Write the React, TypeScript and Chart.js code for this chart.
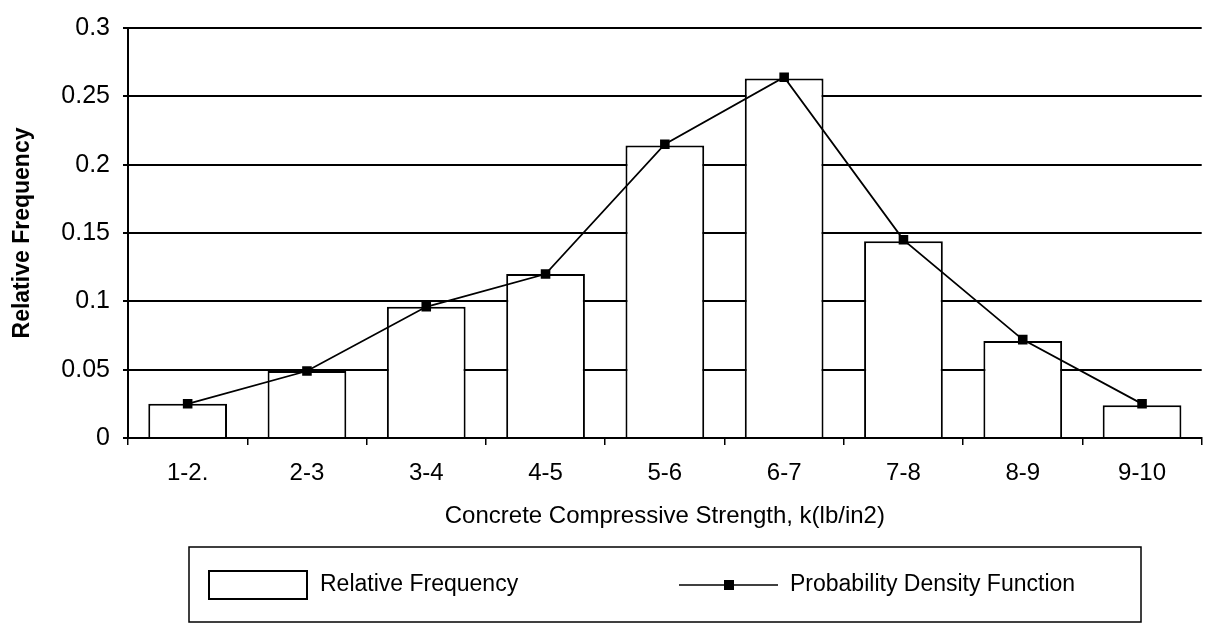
import React, { useEffect, useRef } from "react";
import { Chart, registerables } from "chart.js";

Chart.register(...registerables);

const categories = ["1-2.", "2-3", "3-4", "4-5", "5-6", "6-7", "7-8", "8-9", "9-10"];
const relativeFrequency = [0.025, 0.049, 0.096, 0.12, 0.214, 0.263, 0.144, 0.071, 0.024];
const probabilityDensity = [0.025, 0.049, 0.096, 0.12, 0.215, 0.264, 0.145, 0.072, 0.025];
const yTickLabels = ["0", "0.05", "0.1", "0.15", "0.2", "0.25", "0.3"];

const FONT = "'Liberation Sans', Arial, sans-serif";

const legendBoxPlugin = {
  id: "legendBox",
  afterDraw(chart: any) {
    const ctx = chart.ctx;
    const ds = chart.data.datasets;
    const midY = 585;
    ctx.save();
    ctx.strokeStyle = "#000";
    ctx.lineWidth = 1.5;
    ctx.strokeRect(189, 547, 952, 75);
    // bar swatch
    ctx.fillStyle = ds[0].backgroundColor;
    ctx.fillRect(209, midY - 14, 98, 28);
    ctx.lineWidth = 2;
    ctx.strokeStyle = ds[0].borderColor;
    ctx.strokeRect(209, midY - 14, 98, 28);
    ctx.fillStyle = "#000";
    ctx.font = `23px ${FONT}`;
    ctx.textBaseline = "middle";
    ctx.textAlign = "left";
    ctx.fillText(ds[0].label, 320, midY);
    // line swatch
    ctx.strokeStyle = ds[1].borderColor;
    ctx.lineWidth = 1.6;
    ctx.beginPath();
    ctx.moveTo(679, midY);
    ctx.lineTo(778, midY);
    ctx.stroke();
    ctx.fillStyle = ds[1].pointBackgroundColor;
    ctx.fillRect(724, midY - 5, 10, 10);
    ctx.fillStyle = "#000";
    ctx.fillText(ds[1].label, 790, midY);
    ctx.restore();
  },
};

export default function App() {
  const ref = useRef<HTMLCanvasElement>(null);
  useEffect(() => {
    document.body.style.margin = "0";
    const canvas = ref.current!;
    const chart = new Chart(canvas, {
      type: "bar",
      data: {
        labels: categories,
        datasets: [
          {
            type: "bar",
            label: "Relative Frequency",
            data: relativeFrequency,
            backgroundColor: "#ffffff",
            borderColor: "#000000",
            borderWidth: 2,
            barPercentage: 0.66,
            categoryPercentage: 1,
            order: 2,
          } as any,
          {
            type: "line",
            label: "Probability Density Function",
            data: probabilityDensity,
            borderColor: "#000000",
            borderWidth: 1.8,
            pointStyle: "rect",
            pointRadius: 5.5,
            pointBackgroundColor: "#000000",
            pointBorderColor: "#000000",
            tension: 0,
            order: 1,
          } as any,
        ],
      },
      options: {
        responsive: false,
        animation: false,
        maintainAspectRatio: false,
        layout: { padding: { left: 0, right: 5, top: 26, bottom: 0 } },
        plugins: {
          legend: { display: false },
          tooltip: { enabled: false },
        },
        scales: {
          x: {
            offset: true,
            afterFit: (s: any) => {
              s.height = 196;
            },
            grid: {
              offset: true,
              drawOnChartArea: false,
              drawTicks: true,
              tickLength: 7,
              color: "#000",
              lineWidth: 1.5,
            },
            border: { display: true, color: "#000", width: 2 },
            ticks: {
              color: "#000",
              padding: 14,
              font: { family: FONT, size: 24 },
              maxRotation: 0,
            },
            title: {
              display: true,
              text: "Concrete Compressive Strength, k(lb/in2)",
              color: "#000",
              font: { family: FONT, size: 24 },
              padding: { top: 0, bottom: 103 },
            },
          },
          y: {
            min: 0,
            max: 0.3,
            afterFit: (s: any) => {
              s.width = 128;
            },
            grid: {
              color: "#000",
              lineWidth: 2,
              drawTicks: true,
              tickLength: 5,
            },
            border: { display: true, color: "#000", width: 2 },
            ticks: {
              stepSize: 0.05,
              color: "#000",
              padding: 13,
              font: { family: FONT, size: 25 },
              callback: (_v: any, i: number) => yTickLabels[i],
            },
            title: {
              display: true,
              text: "Relative Frequency",
              color: "#000",
              font: { family: FONT, size: 23, weight: "bold" },
              padding: { top: 9, bottom: 0 },
            },
          },
        },
      },
      plugins: [legendBoxPlugin],
    });
    return () => chart.destroy();
  }, []);
  return (
    <div style={{ width: 1209, height: 634, background: "#fff" }}>
      <canvas ref={ref} width={1209} height={634} style={{ display: "block" }} />
    </div>
  );
}
